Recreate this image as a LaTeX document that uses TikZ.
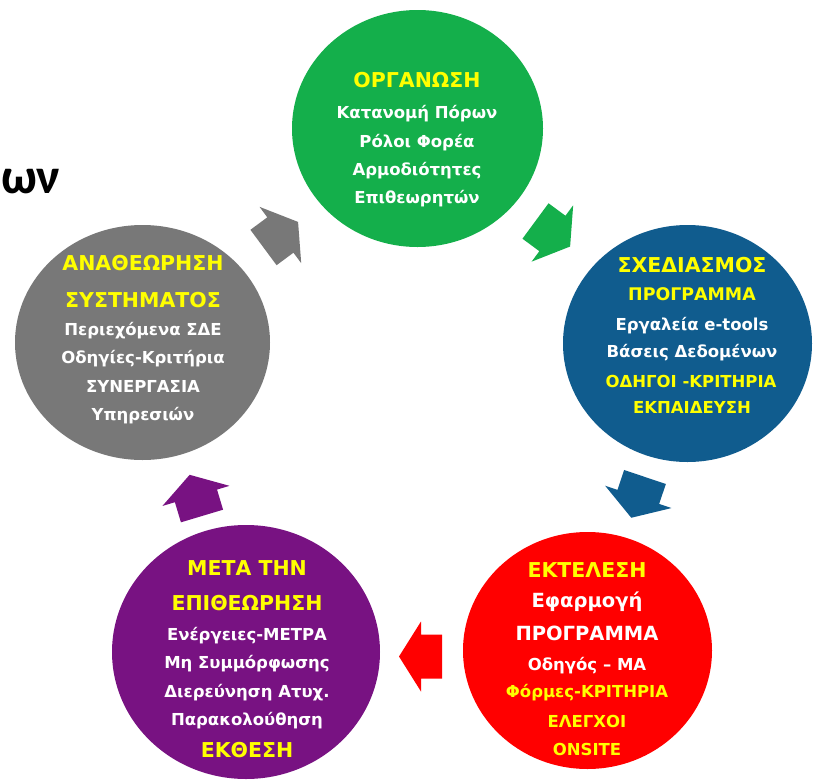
\documentclass[tikz,border=0pt]{standalone}
\usepackage{fontspec}
\setmainfont{DejaVu Sans}
\newfontfamily\titlefont{Carlito}
\usetikzlibrary{shapes.geometric}
\definecolor{cgreen}{RGB}{20,175,75}
\definecolor{cblue}{RGB}{16,92,142}
\definecolor{cred}{RGB}{255,0,0}
\definecolor{cpurple}{RGB}{120,18,130}
\definecolor{cgray}{RGB}{120,120,120}
\definecolor{cyellow}{RGB}{255,255,0}
\tikzset{
  disc/.style={ellipse, inner sep=0pt, draw=none, fill=#1},
  hd/.style={anchor=base, inner sep=0pt, text=cyellow, font=\fontsize{20.5}{24}\selectfont\bfseries},
  bd/.style={anchor=base, inner sep=0pt, text=white, font=\fontsize{16.5}{20}\selectfont\bfseries},
  bdy/.style={bd, text=cyellow},
  bdl/.style={bd, font=\fontsize{19.5}{23}\selectfont\bfseries},
}
\newcommand\blockarrow[4]{%
  \fill[#4, shift={(#1,#2)}, rotate=#3]
    (0,22) -- (21,22) -- (21,35) -- (43,0) -- (21,-35) -- (21,-22) -- (0,-22) -- cycle;}
\begin{document}
\begin{tikzpicture}[x=1pt, y=-1pt]
\useasboundingbox (0,0) rectangle (815,782);
\fill[white] (0,0) rectangle (815,782);

% title fragment
\node[anchor=base west, inner sep=0pt, font=\titlefont\fontsize{50}{58}\selectfont\bfseries] (title) at (1,193) {ων};

% circles
\node[disc=cgreen, minimum width=251pt, minimum height=237pt] (org) at (417.5,128.5) {};
\node[disc=cblue, minimum width=249pt, minimum height=237pt] (sxed) at (687.5,343.5) {};
\node[disc=cred, minimum width=249pt, minimum height=237pt] (ekt) at (587.5,650.5) {};
\node[disc=cpurple, minimum width=268pt, minimum height=254pt] (meta) at (246,652) {};
\node[disc=cgray, minimum width=255pt, minimum height=235pt] (anath) at (142.5,342.5) {};

% arrows
\blockarrow{263.5}{247.5}{36.5}{cgray}
\blockarrow{535.5}{221}{-36.4}{cgreen}
\blockarrow{645}{477}{-108.6}{cblue}
\blockarrow{442}{656.5}{180}{cred}
\blockarrow{202}{516}{106.7}{cpurple}

% green text
\node[hd] (g1) at (417,87) {ΟΡΓΑΝΩΣΗ};
\node[bd] (g2) at (417,118) {Κατανομή Πόρων};
\node[bd] (g3) at (417,147) {Ρόλοι Φορέα};
\node[bd] (g4) at (417,175) {Αρμοδιότητες};
\node[bd] (g5) at (417,203) {Επιθεωρητών};

% blue text
\node[hd] (b1) at (692,272) {ΣΧΕΔΙΑΣΜΟΣ};
\node[bdy, font=\fontsize{17.4}{20}\selectfont\bfseries] (b2) at (692,300) {ΠΡΟΓΡΑΜΜΑ};
\node[bd] (b3) at (692,330) {Εργαλεία e-tools};
\node[bd] (b4) at (692,357) {Βάσεις Δεδομένων};
\node[bdy] (b5) at (691,387) {ΟΔΗΓΟΙ -ΚΡΙΤΗΡΙΑ};
\node[bdy] (b6) at (692,413) {ΕΚΠΑΙΔΕΥΣΗ};

% red text
\node[hd] (r1) at (587,577) {ΕΚΤΕΛΕΣΗ};
\node[bdl] (r2) at (587,607) {Εφαρμογή};
\node[bdl] (r3) at (587,640) {ΠΡΟΓΡΑΜΜΑ};
\node[bd] (r4) at (587,670) {Οδηγός – ΜΑ};
\node[bdy] (r5) at (587,697) {Φόρμες-ΚΡΙΤΗΡΙΑ};
\node[bdy] (r6) at (587,727) {ΕΛΕΓΧΟΙ};
\node[bdy] (r7) at (587,755) {ONSITE};

% purple text
\node[hd] (p1) at (247,575) {ΜΕΤΑ ΤΗΝ};
\node[hd] (p2) at (247,610) {ΕΠΙΘΕΩΡΗΣΗ};
\node[bd] (p3) at (247,640) {Ενέργειες-ΜΕΤΡΑ};
\node[bd] (p4) at (247,668) {Μη Συμμόρφωσης};
\node[bd] (p5) at (247,697) {Διερεύνηση Ατυχ.};
\node[bd] (p6) at (247,725) {Παρακολούθηση};
\node[hd] (p7) at (247,757) {ΕΚΘΕΣΗ};

% gray text
\node[hd] (a1) at (143,270) {ΑΝΑΘΕΩΡΗΣΗ};
\node[hd] (a2) at (143,307) {ΣΥΣΤΗΜΑΤΟΣ};
\node[bd] (a3) at (143,335) {Περιεχόμενα ΣΔΕ};
\node[bd] (a4) at (143,363) {Οδηγίες-Κριτήρια};
\node[bd] (a5) at (143,392) {ΣΥΝΕΡΓΑΣΙΑ};
\node[bd] (a6) at (143,420) {Υπηρεσιών};
\end{tikzpicture}
\end{document}
